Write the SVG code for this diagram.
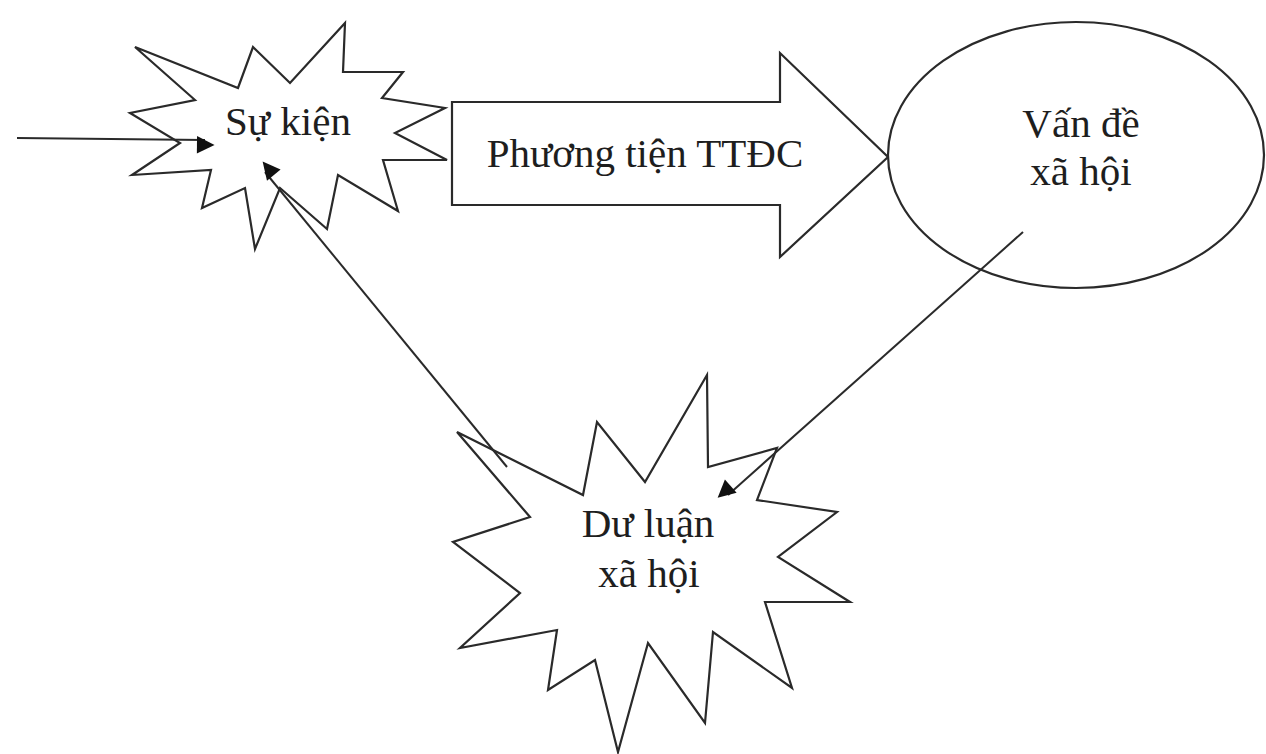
<svg xmlns="http://www.w3.org/2000/svg" width="1266" height="754" viewBox="0 0 1266 754">
<defs>
<style>
.shape{fill:#fff;stroke:#2a2a2a;stroke-width:2.2;stroke-linejoin:miter}
.lbl{font-family:"Liberation Serif","Times New Roman",serif;font-size:41px;fill:#1e1e1e;text-anchor:middle}
.conn{fill:none;stroke:#2a2a2a;stroke-width:2}
</style>
<marker id="ah" viewBox="0 0 10 10" refX="10" refY="5" markerWidth="10" markerHeight="8" markerUnits="userSpaceOnUse" orient="auto" overflow="visible">
<path d="M0,0 L10,5 L0,10 z" fill="#111" transform="scale(2.2)" />
</marker>
</defs>
<rect width="1266" height="754" fill="#fff"/>
<g id="su-kien">
<polygon class="shape" points="135,47 238,88 253,47 290,83 345,23 343,72 403,72 382,98 445,108 395,133 447,160 383,160 398,211 338,175 327,229 280,188 255,249 245,188 202,208 211,170 132,175 180,143 130,113 195,100"/>
<text class="lbl" x="288" y="135">Sự kiện</text>
</g>
<g id="phuong-tien">
<path class="shape" d="M452,102 H780 V53 L888,157 L780,257 V205 H452 Z"/>
<text class="lbl" x="645" y="167">Phương tiện TTĐC</text>
</g>
<g id="van-de">
<ellipse class="shape" cx="1076" cy="155" rx="188" ry="133"/>
<text class="lbl" x="1081" y="137">Vấn đề</text>
<text class="lbl" x="1081" y="185">xã hội</text>
</g>
<g id="du-luan">
<polygon class="shape" points="707,375 708,467 777,448 757,500 837,512 778,557 850,602 765,602 792,688 713,632 705,723 648,643 618,752 595,660 548,690 557,630 460,648 520,593 453,542 530,517 457,432 583,495 597,422 645,482"/>
<text class="lbl" x="648" y="537">Dư luận</text>
<text class="lbl" x="649" y="587">xã hội</text>
</g>
<g id="connectors">
<line class="conn" x1="17" y1="138" x2="205" y2="140" marker-end="url(#ah)"/>
<line class="conn" x1="507" y1="467" x2="265" y2="172" marker-end="url(#ah)"/>
<line class="conn" x1="1023" y1="232" x2="728" y2="495" marker-end="url(#ah)"/>
</g>
</svg>
